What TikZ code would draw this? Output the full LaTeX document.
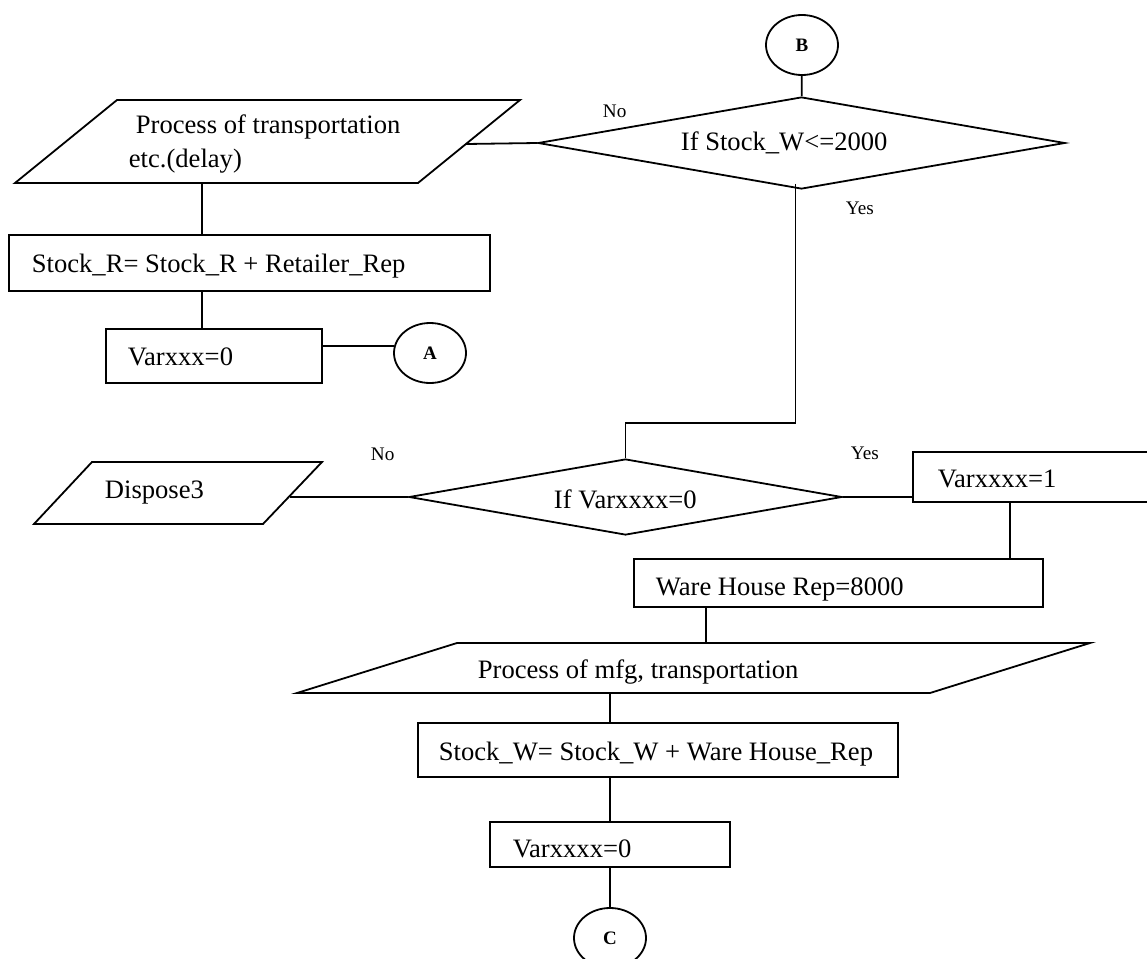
\documentclass[tikz,border=0pt]{standalone}
\usepackage{fontspec}
\setmainfont{Liberation Serif}
\usetikzlibrary{shapes.geometric,calc}
\begin{document}
\begin{tikzpicture}[x=0.5pt,y=-0.5pt,line width=0.9pt,
  txt/.style={anchor=base west,inner sep=0,font=\fontsize{13.3}{16}\selectfont},
  lbl/.style={anchor=base west,inner sep=0,font=\fontsize{9.6}{11}\selectfont},
  procbox/.style={draw,rectangle,inner sep=0},
  conn/.style={draw,ellipse,inner sep=0,minimum width=36pt,minimum height=30pt,font=\bfseries\fontsize{9.5}{11}\selectfont},
  decide/.style={draw,diamond,inner sep=0},
]
\useasboundingbox (0,0) rectangle (1147,959);

% ---- top decision
\node[conn] (B) at (802,45) {B};
\node[decide,minimum width=263.5pt,minimum height=46pt] (D1) at (801.5,143) {};
\node[txt] (tD1) at (680,150) {If Stock\_W<=2000};
\draw (B) -- (D1);

% ---- left branch (No)
\draw (117,100) -- (520,100) -- (418,183) -- (15,183) -- cycle;
\coordinate (P1r) at (466,144);
\coordinate (P1b) at (202,183);
\node[txt] (tP1a) at (135,133) {Process of transportation};
\node[txt] (tP1b) at (128,167) {etc.(delay)};
\draw (P1r) -- (D1.west);

\node[procbox,minimum width=240.5pt,minimum height=28pt] (R1) at (249.5,263) {};
\node[txt] (tR1) at (31,272) {Stock\_R= Stock\_R + Retailer\_Rep};
\draw (P1b) -- (P1b |- R1.north);

\node[procbox,minimum width=108pt,minimum height=27pt] (V1) at (214,356) {};
\node[txt] (tV1) at (127,365) {Varxxx=0};
\draw (P1b |- R1.south) -- (P1b |- V1.north);

\node[conn] (A) at (430,353) {A};
\coordinate (Aw) at ($(A.west)+(1,-7)$);
\draw (Aw -| V1.east) -- (Aw);

\node[lbl] (lNo1) at (602,117) {No};
\node[lbl] (lYes1) at (845,214) {Yes};

% ---- yes path to second decision
\coordinate (j0) at ($(D1.south)+(-6,-6)$);
\coordinate (j1) at (795.5,423);
\node[decide,minimum width=216.5pt,minimum height=38pt] (D2) at (625.5,497) {};
\node[txt] (tD2) at (553,508) {If Varxxxx=0};
\draw (j0) -- (j1) -| (D2.north);

% ---- dispose
\draw (92,462) -- (322,462) -- (263,524) -- (34,524) -- cycle;
\coordinate (Pdr) at (290,497);
\node[txt] (tDisp) at (104,498) {Dispose3};
\draw (D2.west) -- (Pdr);
\node[lbl] (lNo2) at (370,460) {No};
\node[lbl] (lYes2) at (850,459) {Yes};

% ---- right branch
\node[procbox,minimum width=118.5pt,minimum height=25pt] (V2) at (1031.5,477) {};
\node[txt] (tV2) at (937,487) {Varxxxx=1};
\draw (D2.east) -- (D2.east -| V2.west);

\node[procbox,minimum width=204.5pt,minimum height=24pt] (W) at (838.5,583) {};
\node[txt] (tW) at (655,595) {Ware House Rep=8000};
\coordinate (x1010) at (1010,0);
\draw (x1010 |- V2.south) -- (x1010 |- W.north);

\draw (457,643) -- (1090,643) -- (930,693) -- (297,693) -- cycle;
\coordinate (P2t) at (706,643);
\coordinate (P2b) at (610,693);
\node[txt] (tP2) at (477,678) {Process of mfg, transportation};
\draw (P2t |- W.south) -- (P2t);

\node[procbox,minimum width=240pt,minimum height=27pt] (S2) at (658,750) {};
\node[txt] (tS2) at (438,760) {Stock\_W= Stock\_W + Ware House\_Rep};
\draw (P2b) -- (P2b |- S2.north);

\node[procbox,minimum width=120pt,minimum height=22.5pt] (V3) at (610,844.5) {};
\node[txt] (tV3) at (512,857) {Varxxxx=0};
\draw (V3.north |- S2.south) -- (V3.north);

\node[conn] (C) at (610,938) {C};
\draw (V3) -- (C);
\end{tikzpicture}
\end{document}
